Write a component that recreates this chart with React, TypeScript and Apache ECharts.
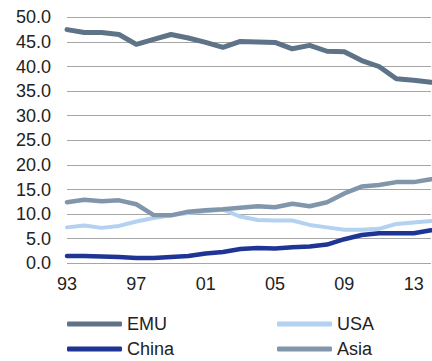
import React, { useEffect, useRef } from "react";
import * as echarts from "echarts";

const years = ["93","94","95","96","97","98","99","00","01","02","03","04","05","06","07","08","09","10","11","12","13","14"];
const emu = [47.5,46.9,46.9,46.5,44.5,45.5,46.5,45.8,44.9,43.9,45.1,45.0,44.9,43.6,44.3,43.1,43.0,41.2,40.0,37.5,37.2,36.8];
const usa = [7.3,7.7,7.2,7.6,8.5,9.2,9.75,10.2,10.6,10.9,9.5,8.8,8.7,8.7,7.8,7.3,6.8,6.8,7.0,8.0,8.3,8.6];
const china = [1.5,1.5,1.4,1.3,1.1,1.1,1.3,1.5,2.0,2.3,2.9,3.1,3.0,3.25,3.4,3.8,4.9,5.75,6.1,6.1,6.1,6.7];
const asia = [12.4,12.9,12.6,12.8,12.0,9.8,9.75,10.5,10.8,11.0,11.3,11.6,11.4,12.1,11.6,12.4,14.2,15.6,15.9,16.5,16.5,17.1];

const FONT = "'Liberation Sans', Arial, sans-serif";
const seriesDefs = [
  { name: "EMU", data: emu, color: "#5e7388", width: 5 },
  { name: "USA", data: usa, color: "#b3d1f0", width: 4 },
  { name: "China", data: china, color: "#1f3595", width: 4.5 },
  { name: "Asia", data: asia, color: "#8296ab", width: 4.5 },
];
const legendPos = [
  { left: 67, top: 315 },
  { left: 277, top: 315 },
  { left: 67, top: 340 },
  { left: 277, top: 340 },
];

export default function App() {
  const ref = useRef<HTMLDivElement>(null);
  useEffect(() => {
    if (!ref.current) return;
    const chart = echarts.init(ref.current, null, { renderer: "svg" });
    chart.setOption({
      animation: false,
      grid: { left: 67, right: 1, top: 17.3, bottom: 97.7, containLabel: false },
      xAxis: {
        type: "category",
        data: years,
        boundaryGap: false,
        axisLine: { show: false },
        axisTick: { show: false },
        axisLabel: { interval: 3, fontSize: 18, color: "#222", fontFamily: FONT, margin: 12 },
        splitLine: { show: false },
      },
      yAxis: {
        type: "value",
        min: 0,
        max: 50,
        interval: 5,
        axisLine: { show: false },
        axisTick: { show: false },
        axisLabel: {
          fontSize: 18,
          color: "#222",
          fontFamily: FONT,
          margin: 16,
          formatter: (v: number) => v.toFixed(1),
        },
        splitLine: { lineStyle: { color: "#a6a6a6", width: 1 } },
      },
      legend: seriesDefs.map((s, i) => ({
        data: [s.name],
        left: legendPos[i].left,
        top: legendPos[i].top,
        padding: 0,
        icon: "roundRect",
        itemWidth: 55,
        itemHeight: 5,
        itemGap: 0,
        textStyle: { fontSize: 18, color: "#222", fontFamily: FONT, padding: [0, 0, 0, 0] },
      })),
      series: seriesDefs.map((s) => ({
        name: s.name,
        type: "line",
        data: s.data,
        symbol: "none",
        color: s.color,
        lineStyle: { color: s.color, width: s.width, cap: "round", join: "round" },
      })),
    });
    return () => chart.dispose();
  }, []);
  return (
    <div
      ref={ref}
      style={{ position: "absolute", left: 0, top: 0, width: 432, height: 361, background: "#fff" }}
    />
  );
}
